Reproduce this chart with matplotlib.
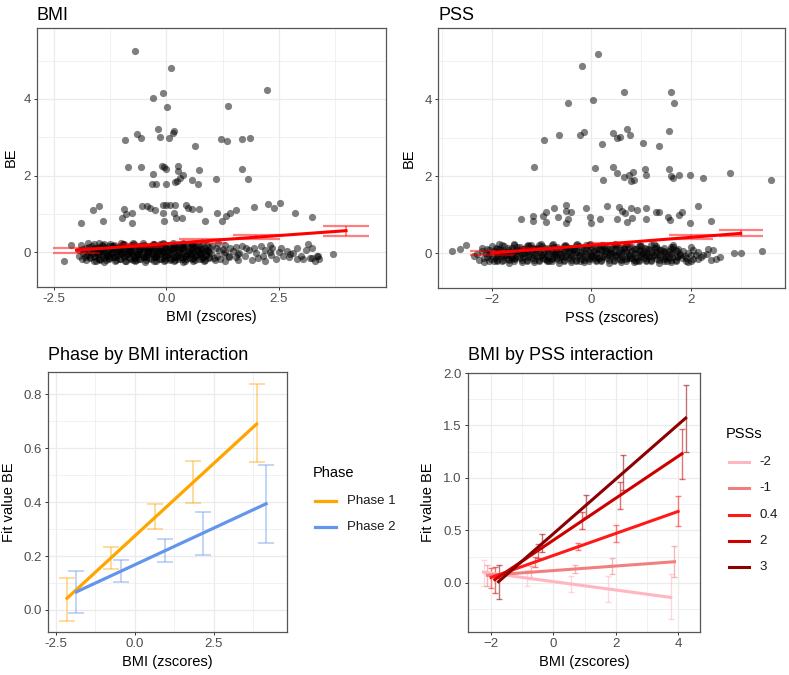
import matplotlib
matplotlib.use("Agg")
import matplotlib.pyplot as plt
from matplotlib.lines import Line2D
from matplotlib.ticker import MultipleLocator

plt.rcParams['font.family'] = ['Liberation Sans', 'DejaVu Sans']

# ---- top-left: BE vs BMI (zscores) ----
bmi_high = [(-0.69, 5.25), (0.11, 4.80), (-0.07, 4.16), (-0.29, 4.03), (0.01, 3.80),
            (2.23, 4.22), (1.38, 3.81), (-0.18, 3.22), (-0.65, 3.08), (-0.56, 2.97),
            (-0.91, 2.92), (-0.14, 3.01), (0.06, 2.99), (0.18, 3.15), (0.15, 3.10),
            (1.21, 2.94), (1.35, 2.91), (1.69, 2.96), (1.86, 2.97), (0.63, 2.76),
            (-0.85, 2.23), (-0.57, 2.23), (-0.10, 2.26), (-0.06, 2.23), (-0.01, 2.18),
            (0.26, 2.24), (0.25, 2.11), (0.73, 2.15), (1.68, 2.16), (1.81, 1.92),
            (-0.30, 2.05), (-0.33, 1.79), (-0.22, 1.78), (0.00, 1.77), (0.19, 1.82),
            (0.24, 1.86), (0.31, 1.93), (0.38, 2.02), (0.58, 1.88), (0.71, 1.78),
            (1.11, 1.92), (-1.64, 1.11), (-1.51, 1.21), (-1.91, 0.75), (-1.42, 0.82),
            (-0.94, 1.12), (-0.98, 0.88), (-0.89, 0.99), (-0.76, 1.01), (-0.76, 0.77),
            (-0.54, 1.21), (-0.44, 1.21), (-0.37, 1.14), (-0.25, 1.11), (-0.08, 1.24),
            (-0.07, 1.03), (-0.06, 0.82), (0.00, 1.24), (0.07, 1.23), (0.16, 1.01),
            (0.21, 0.88), (0.34, 0.88), (0.19, 1.23), (0.43, 1.23), (0.49, 1.16),
            (0.58, 1.12), (0.73, 1.12), (0.85, 0.81), (1.12, 1.02), (1.24, 0.82),
            (1.32, 0.94), (1.42, 1.01), (1.54, 1.10), (1.95, 1.19), (2.27, 1.25),
            (2.40, 1.15), (2.53, 1.27), (2.86, 1.01), (3.24, 0.93),
            (-2.27, -0.24), (-2.12, 0.19), (3.72, -0.04), (3.24, -0.16), (3.35, -0.11)]

bmi_band = [(-1.62, -0.23), (-1.38, -0.25), (-1.15, -0.22), (-0.92, -0.24), (-0.70, -0.23),
            (-0.48, -0.25), (-0.27, -0.22), (-0.05, -0.24), (0.16, -0.23), (0.38, -0.25),
            (0.60, -0.22), (0.84, -0.24), (1.08, -0.21), (1.90, -0.20), (2.20, -0.24),
            (2.45, -0.19), (3.05, -0.17), (3.30, -0.24),
            (-1.88, -0.18), (-1.70, -0.15), (-1.50, -0.17), (-1.27, -0.16), (-1.04, -0.18),
            (-0.82, -0.15), (-0.60, -0.17), (-0.38, -0.16), (-0.16, -0.18), (0.05, -0.15),
            (0.27, -0.17), (0.50, -0.16), (0.72, -0.18), (0.95, -0.15), (1.20, -0.17),
            (1.55, -0.14), (2.05, -0.15), (2.72, -0.14), (2.90, -0.18), (3.20, -0.15),
            (-1.95, -0.10), (-1.78, -0.08), (-1.58, -0.11), (-1.35, -0.09), (-1.12, -0.10),
            (-0.90, -0.08), (-0.68, -0.11), (-0.46, -0.09), (-0.24, -0.10), (-0.02, -0.08),
            (0.20, -0.11), (0.42, -0.09), (0.64, -0.10), (0.88, -0.08), (1.12, -0.11),
            (1.40, -0.09), (1.75, -0.10), (2.32, -0.07), (2.60, -0.11), (3.38, -0.10),
            (-1.85, -0.03), (-1.63, -0.02), (-1.42, -0.04), (-1.20, -0.01), (-0.98, -0.03),
            (-0.76, -0.02), (-0.54, -0.04), (-0.32, -0.01), (-0.10, -0.03), (0.12, -0.02),
            (0.34, -0.04), (0.56, -0.01), (0.78, -0.03), (1.00, -0.02), (1.28, -0.04),
            (1.62, -0.01), (2.00, -0.03), (2.50, 0.00), (2.82, -0.02),
            (-1.92, 0.05), (-1.72, 0.03), (-1.50, 0.05), (-1.28, 0.04), (-1.06, 0.06),
            (-0.84, 0.03), (-0.62, 0.05), (-0.40, 0.04), (-0.18, 0.06), (0.04, 0.03),
            (0.26, 0.05), (0.48, 0.04), (0.70, 0.06), (0.92, 0.03), (1.18, 0.05),
            (1.48, 0.04), (1.85, 0.05), (2.20, 0.06), (2.68, 0.03), (3.10, 0.05),
            (-1.80, 0.11), (-1.58, 0.10), (-1.36, 0.12), (-1.14, 0.10), (-0.92, 0.11),
            (-0.70, 0.12), (-0.48, 0.10), (-0.26, 0.11), (-0.04, 0.12), (0.18, 0.10),
            (0.40, 0.11), (0.62, 0.12), (0.86, 0.10), (1.10, 0.11), (1.42, 0.10),
            (1.78, 0.12), (2.35, 0.10), (2.90, 0.11),
            (-1.90, 0.18), (-1.66, 0.16), (-1.44, 0.18), (-1.22, 0.17), (-1.00, 0.16),
            (-0.78, 0.18), (-0.56, 0.17), (-0.34, 0.16), (-0.12, 0.18), (0.10, 0.17),
            (0.32, 0.16), (0.54, 0.18), (0.76, 0.17), (1.02, 0.16), (1.30, 0.18),
            (1.68, 0.15), (2.10, 0.17), (3.15, 0.20),
            (-1.75, 0.23), (-1.50, 0.24), (-1.25, 0.22), (-1.00, 0.24), (-0.75, 0.23),
            (-0.52, 0.25), (-0.30, 0.22), (-0.08, 0.24), (0.14, 0.23), (0.36, 0.25),
            (0.58, 0.22), (0.82, 0.24), (1.15, 0.23),
            (-1.48, -0.20), (-1.25, -0.13), (-1.02, -0.06), (-0.80, 0.01), (-0.58, 0.08),
            (-0.36, 0.14), (-0.14, 0.20), (0.08, -0.20), (0.30, -0.13), (0.52, -0.06),
            (0.74, 0.01), (-1.40, 0.07), (-1.18, 0.14), (-0.96, 0.20), (-0.74, -0.20),
            (-0.52, -0.13), (-0.30, -0.06), (-0.08, 0.01), (0.14, 0.07), (0.36, 0.14),
            (0.58, 0.20), (0.80, -0.13), (-1.55, 0.00), (-1.33, -0.07), (-1.10, 0.02),
            (-0.88, 0.09), (-0.66, -0.05), (-0.44, 0.02), (-0.22, -0.14), (0.00, 0.09),
            (0.22, 0.16), (0.44, -0.19), (0.66, 0.09), (-1.70, -0.12), (-0.20, 0.05),
            (0.90, 0.05), (1.05, -0.15), (1.30, 0.00), (1.60, -0.20), (1.95, 0.10),
            (2.15, -0.10), (2.30, 0.18), (2.55, 0.12), (2.75, -0.06), (3.00, -0.10),
            (3.25, 0.12), (3.40, -0.18),
            # second pass over the packed core
            (-1.78, -0.21), (-1.56, -0.22), (-1.34, -0.20), (-1.12, -0.21), (-0.90, -0.22),
            (-0.68, -0.20), (-0.46, -0.21), (-0.24, -0.22), (-0.02, -0.20), (0.20, -0.21),
            (0.42, -0.22), (0.64, -0.20), (0.86, -0.21), (1.30, -0.22),
            (-1.82, -0.14), (-1.60, -0.13), (-1.38, -0.15), (-1.16, -0.14), (-0.94, -0.13),
            (-0.72, -0.15), (-0.50, -0.14), (-0.28, -0.13), (-0.06, -0.15), (0.16, -0.14),
            (0.38, -0.13), (0.60, -0.15), (0.82, -0.14), (1.40, -0.13),
            (-1.75, -0.07), (-1.53, -0.06), (-1.31, -0.08), (-1.09, -0.07), (-0.87, -0.06),
            (-0.65, -0.08), (-0.43, -0.07), (-0.21, -0.06), (0.01, -0.08), (0.23, -0.07),
            (0.45, -0.06), (0.67, -0.08), (0.89, -0.07), (1.60, -0.06),
            (-1.70, 0.00), (-1.48, 0.01), (-1.26, -0.01), (-1.04, 0.00), (-0.82, 0.01),
            (-0.60, -0.01), (-0.38, 0.00), (-0.16, 0.01), (0.06, -0.01), (0.28, 0.00),
            (0.50, 0.01), (0.72, -0.01), (0.94, 0.00), (2.30, 0.01),
            (-1.85, 0.07), (-1.63, 0.08), (-1.41, 0.06), (-1.19, 0.07), (-0.97, 0.08),
            (-0.75, 0.06), (-0.53, 0.07), (-0.31, 0.08), (-0.09, 0.06), (0.13, 0.07),
            (0.35, 0.08), (0.57, 0.06), (0.79, 0.07), (1.25, 0.08),
            (-1.72, 0.14), (-1.50, 0.13), (-1.28, 0.15), (-1.06, 0.14), (-0.84, 0.13),
            (-0.62, 0.15), (-0.40, 0.14), (-0.18, 0.13), (0.04, 0.15), (0.26, 0.14),
            (0.48, 0.13), (0.70, 0.15), (0.95, 0.14), (1.55, 0.13),
            (-1.60, 0.20), (-1.38, 0.21), (-1.16, 0.19), (-0.94, 0.20), (-0.72, 0.21),
            (-0.50, 0.19), (-0.28, 0.20), (-0.06, 0.21), (0.16, 0.19), (0.38, 0.20),
            (0.60, 0.21), (0.90, 0.19),
            # third pass, the blackest part of the band
            (-1.50, -0.18), (-1.27, -0.19), (-1.04, -0.17), (-0.81, -0.18), (-0.58, -0.19),
            (-0.35, -0.17), (-0.12, -0.18), (0.11, -0.19), (0.34, -0.17), (0.57, -0.18),
            (0.80, -0.19),
            (-1.40, -0.11), (-1.17, -0.12), (-0.94, -0.10), (-0.71, -0.11), (-0.48, -0.12),
            (-0.25, -0.10), (-0.02, -0.11), (0.21, -0.12), (0.44, -0.10), (0.67, -0.11),
            (0.95, -0.12),
            (-1.55, -0.04), (-1.32, -0.05), (-1.09, -0.03), (-0.86, -0.04), (-0.63, -0.05),
            (-0.40, -0.03), (-0.17, -0.04), (0.06, -0.05), (0.29, -0.03), (0.52, -0.04),
            (0.75, -0.05),
            (-1.45, 0.03), (-1.22, 0.02), (-0.99, 0.04), (-0.76, 0.03), (-0.53, 0.02),
            (-0.30, 0.04), (-0.07, 0.03), (0.16, 0.02), (0.39, 0.04), (0.62, 0.03),
            (0.85, 0.02),
            (-1.52, 0.10), (-1.29, 0.09), (-1.06, 0.11), (-0.83, 0.10), (-0.60, 0.09),
            (-0.37, 0.11), (-0.14, 0.10), (0.09, 0.09), (0.32, 0.11), (0.55, 0.10),
            (0.78, 0.09),
            (-1.42, 0.17), (-1.19, 0.16), (-0.96, 0.18), (-0.73, 0.17), (-0.50, 0.16),
            (-0.27, 0.18), (-0.04, 0.17), (0.19, 0.16), (0.42, 0.18), (0.65, 0.17)]

bmi_fit_x = [-2.0, -0.6, 0.8, 2.0, 4.0]
bmi_fit = [0.05, 0.17, 0.29, 0.39, 0.56]
bmi_fit_lo = [-0.02, 0.13, 0.25, 0.33, 0.42]
bmi_fit_hi = [0.12, 0.21, 0.33, 0.45, 0.68]

# ---- top-right: BE vs PSS (zscores) ----
pss_high = [(0.13, 5.17), (-0.19, 4.85), (0.04, 3.98), (-0.47, 3.91), (0.66, 4.18),
            (1.60, 4.19), (1.66, 3.91), (-0.96, 2.94), (-0.64, 3.07), (-0.23, 3.07),
            (-0.15, 3.14), (0.44, 3.13), (0.52, 2.99), (0.58, 3.01), (0.72, 3.22),
            (0.78, 3.08), (0.22, 2.83), (1.04, 2.85), (1.36, 2.77), (1.56, 3.17),
            (-1.15, 2.24), (0.08, 2.21), (0.24, 1.89), (0.44, 2.23), (0.51, 2.07),
            (0.66, 1.97), (0.76, 2.04), (0.84, 2.11), (0.80, 1.87), (0.86, 1.91),
            (1.07, 2.18), (1.09, 2.02), (1.56, 2.19), (1.60, 2.00), (1.65, 1.94),
            (1.76, 2.04), (1.98, 2.04), (2.25, 1.95), (2.78, 2.07), (3.60, 1.89),
            (-1.42, 0.88), (-1.17, 0.96), (-1.17, 0.83), (-0.98, 0.96), (-0.91, 1.07),
            (-0.91, 0.81), (-0.75, 1.16), (-0.67, 0.94), (-0.50, 1.25), (-0.50, 1.10),
            (-0.40, 1.07), (-0.46, 0.88), (-0.50, 0.79), (-0.11, 1.16), (-0.03, 0.94),
            (-0.01, 0.79), (0.17, 0.88), (0.32, 1.23), (0.51, 0.88), (0.56, 1.19),
            (0.62, 1.10), (0.67, 1.03), (0.71, 0.81), (0.80, 1.18), (0.81, 0.90),
            (0.92, 1.12), (1.10, 1.18), (1.10, 0.88), (1.29, 1.07), (1.36, 1.07),
            (1.54, 0.93), (1.59, 0.85), (1.76, 0.99), (1.82, 1.07), (1.98, 0.77),
            (2.15, 1.23), (2.41, 0.83),
            (-2.80, 0.04), (-2.63, 0.11), (-2.51, 0.22), (2.86, 0.00), (3.00, -0.01),
            (3.42, 0.04), (2.58, -0.11), (2.45, 0.08), (2.33, -0.03)]

pss_band = [(-2.15, -0.24), (-1.90, -0.22), (-1.65, -0.25), (-1.40, -0.23), (-1.15, -0.24),
            (-0.90, -0.22), (-0.65, -0.25), (-0.40, -0.23), (-0.15, -0.24), (0.10, -0.22),
            (0.35, -0.25), (0.60, -0.23), (0.85, -0.24), (1.10, -0.22), (1.35, -0.25),
            (1.60, -0.23), (1.95, -0.24), (2.00, -0.20),
            (-2.25, -0.17), (-2.02, -0.16), (-1.78, -0.18), (-1.55, -0.16), (-1.30, -0.17),
            (-1.05, -0.18), (-0.80, -0.16), (-0.55, -0.17), (-0.30, -0.18), (-0.05, -0.16),
            (0.20, -0.17), (0.45, -0.18), (0.70, -0.16), (0.95, -0.17), (1.20, -0.18),
            (1.45, -0.16), (1.70, -0.17), (2.05, -0.15), (2.40, -0.18),
            (-2.10, -0.10), (-1.88, -0.09), (-1.62, -0.11), (-1.38, -0.10), (-1.12, -0.09),
            (-0.88, -0.11), (-0.62, -0.10), (-0.38, -0.09), (-0.12, -0.11), (0.12, -0.10),
            (0.38, -0.09), (0.62, -0.11), (0.88, -0.10), (1.12, -0.09), (1.38, -0.11),
            (1.62, -0.10), (1.88, -0.09), (2.20, -0.11),
            (-2.30, -0.03), (-2.05, -0.02), (-1.80, -0.04), (-1.52, -0.03), (-1.25, -0.02),
            (-1.00, -0.04), (-0.75, -0.03), (-0.50, -0.02), (-0.25, -0.04), (0.00, -0.03),
            (0.25, -0.02), (0.50, -0.04), (0.75, -0.03), (1.00, -0.02), (1.25, -0.04),
            (1.50, -0.03), (1.78, -0.02), (2.10, -0.04),
            (-2.20, 0.04), (-1.95, 0.05), (-1.70, 0.03), (-1.45, 0.04), (-1.20, 0.05),
            (-0.95, 0.03), (-0.70, 0.04), (-0.45, 0.05), (-0.20, 0.03), (0.05, 0.04),
            (0.30, 0.05), (0.55, 0.03), (0.80, 0.04), (1.05, 0.05), (1.30, 0.03),
            (1.55, 0.04), (1.85, 0.05), (2.15, 0.03),
            (-2.10, 0.11), (-1.85, 0.10), (-1.60, 0.12), (-1.35, 0.11), (-1.10, 0.10),
            (-0.85, 0.12), (-0.60, 0.11), (-0.35, 0.10), (-0.10, 0.12), (0.15, 0.11),
            (0.40, 0.10), (0.65, 0.12), (0.90, 0.11), (1.15, 0.10), (1.45, 0.12),
            (1.75, 0.11),
            (-2.00, 0.17), (-1.75, 0.18), (-1.50, 0.16), (-1.25, 0.17), (-1.00, 0.18),
            (-0.75, 0.16), (-0.50, 0.17), (-0.25, 0.18), (0.00, 0.16), (0.25, 0.17),
            (0.50, 0.18), (0.75, 0.16), (1.00, 0.17), (1.30, 0.18), (1.65, 0.16),
            (-1.85, 0.23), (-1.55, 0.24), (-1.28, 0.22), (-1.02, 0.23), (-0.78, 0.24),
            (-0.52, 0.22), (-0.28, 0.23), (-0.02, 0.24), (0.22, 0.22), (0.48, 0.23),
            (0.72, 0.24), (0.98, 0.22), (1.25, 0.23),
            (-1.95, -0.21), (-1.72, -0.06), (-1.48, 0.08), (-1.22, 0.20), (-0.98, -0.13),
            (-0.72, 0.00), (-0.48, 0.14), (-0.22, -0.20), (0.02, -0.07), (0.28, 0.07),
            (0.52, 0.20), (0.78, -0.14), (1.02, 0.01), (1.28, 0.14), (1.52, -0.21),
            (1.78, -0.06), (-1.60, -0.14), (-1.35, 0.01), (-1.10, 0.14), (-0.85, -0.20),
            (-0.60, -0.07), (-0.35, 0.07), (-0.10, 0.20), (0.15, -0.14), (0.40, 0.00),
            (0.65, 0.14), (0.90, -0.21), (1.15, -0.07), (1.40, 0.07), (1.65, 0.20),
            (1.90, -0.12), (2.00, 0.15), (2.25, -0.05), (2.35, 0.10), (2.50, -0.15),
            (-2.35, -0.08), (-2.20, 0.12),
            # second pass over the packed core
            (-2.05, -0.21), (-1.80, -0.20), (-1.55, -0.22), (-1.30, -0.21), (-1.05, -0.20),
            (-0.80, -0.22), (-0.55, -0.21), (-0.30, -0.20), (-0.05, -0.22), (0.20, -0.21),
            (0.45, -0.20), (0.70, -0.22), (0.95, -0.21), (1.20, -0.20), (1.45, -0.22),
            (1.70, -0.21), (1.90, -0.20),
            (-2.15, -0.14), (-1.92, -0.13), (-1.68, -0.15), (-1.43, -0.14), (-1.18, -0.13),
            (-0.93, -0.15), (-0.68, -0.14), (-0.43, -0.13), (-0.18, -0.15), (0.07, -0.14),
            (0.32, -0.13), (0.57, -0.15), (0.82, -0.14), (1.07, -0.13), (1.32, -0.15),
            (1.57, -0.14), (1.82, -0.13), (2.15, -0.15),
            (-2.00, -0.07), (-1.75, -0.06), (-1.50, -0.08), (-1.25, -0.07), (-1.00, -0.06),
            (-0.75, -0.08), (-0.50, -0.07), (-0.25, -0.06), (0.00, -0.08), (0.25, -0.07),
            (0.50, -0.06), (0.75, -0.08), (1.00, -0.07), (1.25, -0.06), (1.50, -0.08),
            (1.75, -0.07), (2.00, -0.06),
            (-2.12, 0.00), (-1.88, 0.01), (-1.63, -0.01), (-1.38, 0.00), (-1.13, 0.01),
            (-0.88, -0.01), (-0.63, 0.00), (-0.38, 0.01), (-0.13, -0.01), (0.12, 0.00),
            (0.37, 0.01), (0.62, -0.01), (0.87, 0.00), (1.12, 0.01), (1.37, -0.01),
            (1.62, 0.00), (1.95, 0.01),
            (-2.05, 0.07), (-1.80, 0.08), (-1.55, 0.06), (-1.30, 0.07), (-1.05, 0.08),
            (-0.80, 0.06), (-0.55, 0.07), (-0.30, 0.08), (-0.05, 0.06), (0.20, 0.07),
            (0.45, 0.08), (0.70, 0.06), (0.95, 0.07), (1.20, 0.08), (1.45, 0.06),
            (1.70, 0.07), (2.05, 0.08),
            (-1.92, 0.14), (-1.68, 0.13), (-1.43, 0.15), (-1.18, 0.14), (-0.93, 0.13),
            (-0.68, 0.15), (-0.43, 0.14), (-0.18, 0.13), (0.07, 0.15), (0.32, 0.14),
            (0.57, 0.13), (0.82, 0.15), (1.07, 0.14), (1.32, 0.13), (1.60, 0.15),
            (-1.80, 0.20), (-1.55, 0.21), (-1.30, 0.19), (-1.05, 0.20), (-0.80, 0.21),
            (-0.55, 0.19), (-0.30, 0.20), (-0.05, 0.21), (0.20, 0.19), (0.45, 0.20),
            (0.70, 0.21), (0.95, 0.19), (1.20, 0.20),
            # third pass, the blackest part of the band
            (-1.90, -0.18), (-1.65, -0.19), (-1.40, -0.17), (-1.15, -0.18), (-0.90, -0.19),
            (-0.65, -0.17), (-0.40, -0.18), (-0.15, -0.19), (0.10, -0.17), (0.35, -0.18),
            (0.60, -0.19), (0.85, -0.17), (1.10, -0.18), (1.35, -0.19), (1.60, -0.17),
            (-1.78, -0.11), (-1.53, -0.12), (-1.28, -0.10), (-1.03, -0.11), (-0.78, -0.12),
            (-0.53, -0.10), (-0.28, -0.11), (-0.03, -0.12), (0.22, -0.10), (0.47, -0.11),
            (0.72, -0.12), (0.97, -0.10), (1.22, -0.11), (1.47, -0.12), (1.72, -0.10),
            (-1.90, -0.04), (-1.65, -0.05), (-1.40, -0.03), (-1.15, -0.04), (-0.90, -0.05),
            (-0.65, -0.03), (-0.40, -0.04), (-0.15, -0.05), (0.10, -0.03), (0.35, -0.04),
            (0.60, -0.05), (0.85, -0.03), (1.10, -0.04), (1.35, -0.05), (1.60, -0.03),
            (-1.78, 0.03), (-1.53, 0.02), (-1.28, 0.04), (-1.03, 0.03), (-0.78, 0.02),
            (-0.53, 0.04), (-0.28, 0.03), (-0.03, 0.02), (0.22, 0.04), (0.47, 0.03),
            (0.72, 0.02), (0.97, 0.04), (1.22, 0.03), (1.47, 0.02), (1.72, 0.04),
            (-1.90, 0.10), (-1.65, 0.09), (-1.40, 0.11), (-1.15, 0.10), (-0.90, 0.09),
            (-0.65, 0.11), (-0.40, 0.10), (-0.15, 0.09), (0.10, 0.11), (0.35, 0.10),
            (0.60, 0.09), (0.85, 0.11), (1.10, 0.10), (1.35, 0.09), (1.60, 0.11)]

pss_fit_x = [-2.0, -1.0, 0.4, 2.0, 3.0]
pss_fit = [0.00, 0.10, 0.24, 0.42, 0.51]
pss_fit_lo = [-0.06, 0.07, 0.21, 0.37, 0.43]
pss_fit_hi = [0.06, 0.13, 0.27, 0.47, 0.60]

# ---- bottom-left: Phase by BMI interaction ----
bmi_levels = [-2.0, -0.6, 0.8, 2.0, 4.0]
phases = ['Phase 1', 'Phase 2']
phase1_fit = [0.043, 0.19, 0.345, 0.475, 0.69]
phase1_lo = [-0.04, 0.152, 0.30, 0.398, 0.548]
phase1_hi = [0.12, 0.235, 0.392, 0.554, 0.838]
phase2_fit = [0.067, 0.142, 0.22, 0.287, 0.394]
phase2_lo = [-0.012, 0.104, 0.176, 0.204, 0.25]
phase2_hi = [0.146, 0.185, 0.265, 0.364, 0.538]

# ---- bottom-right: BMI by PSS interaction ----
pss_levels = ['-2', '-1', '0.4', '2', '3']
pss_fits = [[0.10, 0.045, -0.012, -0.06, -0.14],
            [0.07, 0.10, 0.13, 0.156, 0.20],
            [0.05, 0.197, 0.344, 0.47, 0.68],
            [0.03, 0.31, 0.59, 0.83, 1.23],
            [0.01, 0.377, 0.74, 1.05, 1.57]]
pss_los = [[-0.03, -0.03, -0.09, -0.18, -0.35],
           [-0.03, 0.04, 0.09, 0.08, 0.05],
           [-0.05, 0.15, 0.31, 0.39, 0.54],
           [-0.10, 0.24, 0.51, 0.70, 0.99],
           [-0.16, 0.29, 0.63, 0.88, 1.25]]
pss_his = [[0.22, 0.12, 0.06, 0.06, 0.08],
           [0.17, 0.16, 0.17, 0.24, 0.35],
           [0.14, 0.25, 0.38, 0.55, 0.83],
           [0.15, 0.37, 0.67, 0.96, 1.47],
           [0.17, 0.46, 0.84, 1.22, 1.89]]

phase_colors = ['#FFA500', '#6495ED']
pss_colors = ['#FFB6C1', '#F08080', '#FF1A1A', '#CD0000', '#8B0000']

GRID = '#EBEBEB'
TICK = '#4D4D4D'
W, H = 789, 675


def style_axes(ax, xmajor, ymajor):
    ax.xaxis.set_major_locator(MultipleLocator(xmajor))
    ax.xaxis.set_minor_locator(MultipleLocator(xmajor / 2))
    ax.yaxis.set_major_locator(MultipleLocator(ymajor))
    ax.yaxis.set_minor_locator(MultipleLocator(ymajor / 2))
    ax.grid(which='major', color=GRID, lw=0.9, zorder=0)
    ax.grid(which='minor', color=GRID, lw=0.5, zorder=0)
    ax.set_axisbelow(True)
    ax.tick_params(which='major', length=2.5, width=0.7, color='#333333',
                   labelcolor=TICK, labelsize=9.5, pad=2)
    ax.tick_params(which='minor', length=0)
    for s in ax.spines.values():
        s.set_color('#555555')
        s.set_linewidth(0.9)


def place_labels(ax, xlab, ylab, xpos, ypos):
    ax.set_xlabel(xlab, fontsize=10.5)
    ax.set_ylabel(ylab, fontsize=10.5)
    ax.xaxis.label.set_va('center')
    ax.yaxis.label.set_va('center')
    ax.xaxis.set_label_coords(0.5, xpos)
    ax.yaxis.set_label_coords(ypos, 0.5)


def axes_px(fig, x0, y0, x1, y1):
    return fig.add_axes([x0 / W, 1 - y1 / H, (x1 - x0) / W, (y1 - y0) / H])


def scatter_panel(ax, high, band, fx, fy, flo, fhi, half):
    pts = band + high
    xs = [p[0] for p in pts]
    ys = [p[1] for p in pts]
    ax.scatter(xs, ys, s=27, color='black', alpha=0.5, linewidths=0, zorder=2)
    ax.plot([fx[0], fx[-1]], [fy[0], fy[-1]], color='#FF0000', lw=2.2, zorder=4)
    for x, lo, hi in zip(fx, flo, fhi):
        ax.vlines(x, lo, hi, color='#FF0000', alpha=0.5, lw=1.3, zorder=3)
        ax.hlines([lo, hi], x - half, x + half, color='#FF0000', alpha=0.5, lw=1.6, zorder=3)


fig = plt.figure(figsize=(W / 100, H / 100), dpi=100)

# top-left
ax1 = axes_px(fig, 37, 28, 386, 287)
scatter_panel(ax1, bmi_high, bmi_band, bmi_fit_x, bmi_fit, bmi_fit_lo, bmi_fit_hi, 0.52)
ax1.set_xlim(-2.88, 4.89)
ax1.set_ylim(-0.91, 5.85)
style_axes(ax1, 2.5, 2)
ax1.set_xticks([-2.5, 0, 2.5])
ax1.set_xticklabels(['-2.5', '0.0', '2.5'])
ax1.set_title('BMI', loc='left', fontsize=13, pad=6)
place_labels(ax1, 'BMI (zscores)', 'BE', -0.115, -0.075)

# top-right
ax2 = axes_px(fig, 438, 28, 785, 288)
scatter_panel(ax2, pss_high, pss_band, pss_fit_x, pss_fit, pss_fit_lo, pss_fit_hi, 0.44)
ax2.set_xlim(-3.08, 3.89)
ax2.set_ylim(-0.91, 5.85)
style_axes(ax2, 2, 2)
ax2.set_title('PSS', loc='left', fontsize=13, pad=6)
place_labels(ax2, 'PSS (zscores)', 'BE', -0.115, -0.084)

# bottom-left
ax3 = axes_px(fig, 48, 372, 287, 632)
for i, (fit, lo, hi) in enumerate([(phase1_fit, phase1_lo, phase1_hi),
                                   (phase2_fit, phase2_lo, phase2_hi)]):
    off = -0.15 if i == 0 else 0.15
    xs = [b + off for b in bmi_levels]
    err = [[f - l for f, l in zip(fit, lo)], [h - f for f, h in zip(fit, hi)]]
    ax3.errorbar(xs, fit, yerr=err, fmt='none', ecolor=phase_colors[i], alpha=0.5,
                 elinewidth=1.1, capsize=6, capthick=1.1, zorder=3)
    ax3.plot([xs[0], xs[-1]], [fit[0], fit[-1]], color=phase_colors[i], lw=2.3, zorder=4)
ax3.set_xlim(-2.75, 4.81)
ax3.set_ylim(-0.082, 0.883)
style_axes(ax3, 2.5, 0.2)
ax3.set_xticks([-2.5, 0, 2.5])
ax3.set_xticklabels(['-2.5', '0.0', '2.5'])
ax3.set_yticks([0, 0.2, 0.4, 0.6, 0.8])
ax3.set_yticklabels(['0.0', '0.2', '0.4', '0.6', '0.8'])
ax3.set_title('Phase by BMI interaction', loc='left', fontsize=13, pad=9)
place_labels(ax3, 'BMI (zscores)', 'Fit value BE', -0.115, -0.165)

# bottom-right
ax4 = axes_px(fig, 468, 373, 700, 632)
offsets = [-0.24, -0.12, 0.0, 0.12, 0.24]
for i in range(len(pss_levels)):
    xs = [b + offsets[i] for b in bmi_levels]
    fit, lo, hi = pss_fits[i], pss_los[i], pss_his[i]
    err = [[f - l for f, l in zip(fit, lo)], [h - f for f, h in zip(fit, hi)]]
    ax4.errorbar(xs, fit, yerr=err, fmt='none', ecolor=pss_colors[i], alpha=0.55,
                 elinewidth=1.0, capsize=2.5, capthick=1.0, zorder=3)
for i in range(len(pss_levels)):
    xs = [b + offsets[i] for b in bmi_levels]
    fit = pss_fits[i]
    ax4.plot([xs[0], xs[-1]], [fit[0], fit[-1]], color=pss_colors[i], lw=2.2, zorder=4)
ax4.set_xlim(-2.74, 4.70)
ax4.set_ylim(-0.47, 2.0)
style_axes(ax4, 2, 0.5)
ax4.set_yticks([0, 0.5, 1.0, 1.5, 2.0])
ax4.set_yticklabels(['0.0', '0.5', '1.0', '1.5', '2.0'])
ax4.set_title('BMI by PSS interaction', loc='left', fontsize=13, pad=9)
place_labels(ax4, 'BMI (zscores)', 'Fit value BE', -0.115, -0.172)

# legends (drawn by hand in pixel positions)
fig.text(313 / W, 1 - 473 / H, 'Phase', fontsize=10.5, va='center', ha='left')
for i, lab in enumerate(phases):
    y = 1 - (501 + 26 * i) / H
    fig.add_artist(Line2D([315 / W, 336 / W], [y, y], color=phase_colors[i], lw=2.3))
    fig.text(347 / W, y, lab, fontsize=9.5, va='center', ha='left', color='#1A1A1A')

fig.text(726 / W, 1 - 434 / H, 'PSSs', fontsize=10.5, va='center', ha='left')
for i, lab in enumerate(pss_levels):
    y = 1 - (462 + 26.3 * i) / H
    fig.add_artist(Line2D([729 / W, 749 / W], [y, y], color=pss_colors[i], lw=2.2))
    fig.text(759 / W, y, lab, fontsize=9.5, va='center', ha='left', color='#1A1A1A')

fig.savefig('out.png', dpi=100)
